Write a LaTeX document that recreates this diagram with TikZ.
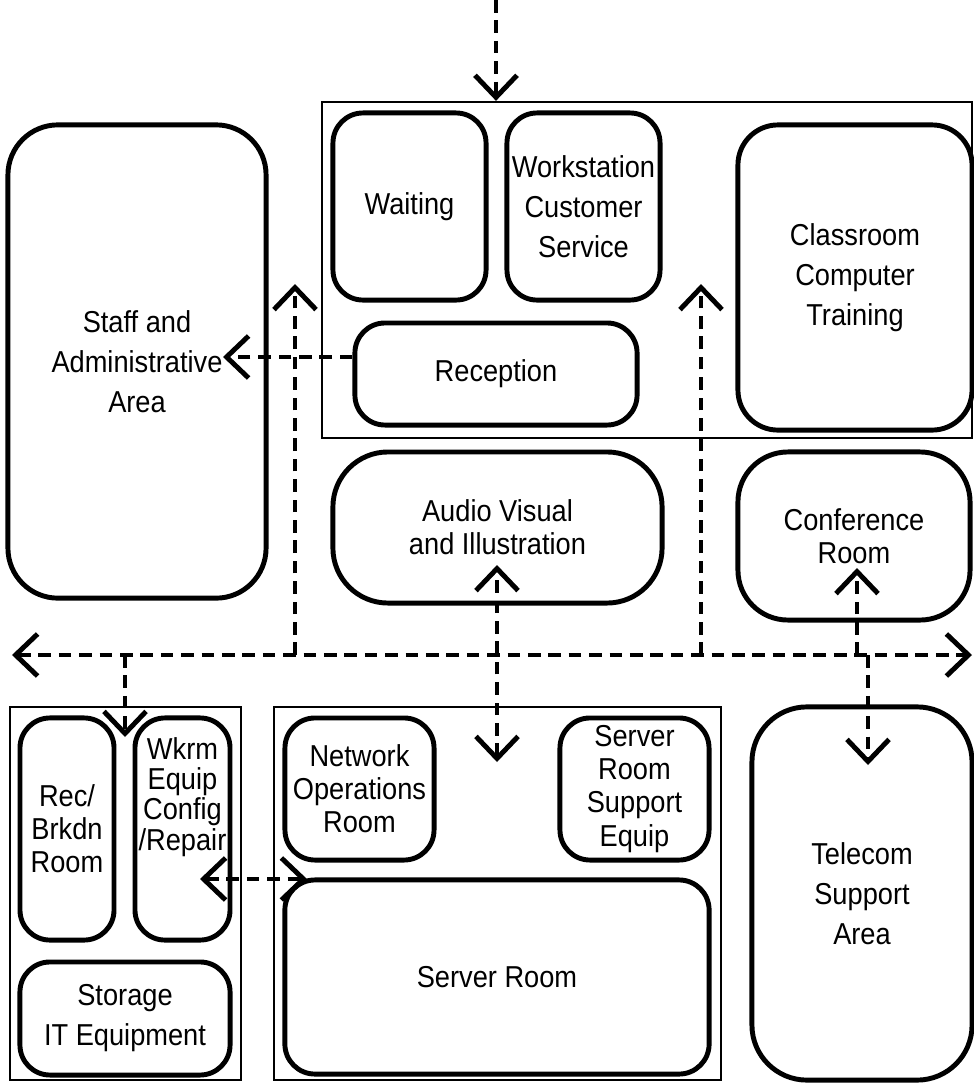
\documentclass[tikz,border=0pt]{standalone}
\usepackage{fontspec}
\setmainfont{Liberation Sans}[FakeStretch=0.9]
\usetikzlibrary{arrows.meta}

\begin{document}
\begin{tikzpicture}[x=0.01cm,y=-0.01cm,line cap=round,
  >={Straight Barb[length=0.22cm,width=0.42cm,line width=1.4pt]},
  zone/.style={draw,line width=0.6pt,inner sep=0pt},
  room/.style={draw,line width=1.4pt,rounded corners=0.3cm,align=center,
    inner sep=0pt,font=\fontsize{8.6}{11.4}\selectfont},
  small/.style={font=\fontsize{8.6}{9.4}\selectfont},
  tag/.style={align=center,inner sep=0pt},
  flow/.style={line width=0.9pt,dash pattern=on 3.6pt off 2.2pt,line cap=butt}]
  \useasboundingbox (0,0) rectangle (974,1084);
  % zones
  \node[zone,minimum width=6.50cm,minimum height=3.36cm] (front) at (647,270) {};
  \node[zone,minimum width=2.31cm,minimum height=3.73cm] (shop) at (125.5,893.5) {};
  \node[zone,minimum width=4.47cm,minimum height=3.73cm] (ops) at (497.5,893.5) {};
  % upper rooms
  \node[room,minimum width=2.58cm,minimum height=4.73cm,rounded corners=0.5cm] (staff) at (137,361.5) {Staff and\\Administrative\\Area};
  \node[room,minimum width=1.53cm,minimum height=1.87cm] (waiting) at (409.5,206.5) {Waiting};
  \node[room,minimum width=1.53cm,minimum height=1.87cm] (custsvc) at (583.5,206.5) {Workstation\\Customer\\Service};
  \node[room,minimum width=2.34cm,minimum height=3.05cm,rounded corners=0.4cm] (classroom) at (855,277.5) {Classroom\\Computer\\Training};
  \node[room,minimum width=2.82cm,minimum height=1.02cm] (reception) at (496,374) {Reception};
  \node[room,small,minimum width=3.29cm,minimum height=1.51cm,rounded corners=0.55cm] (av) at (497.5,527.5) {Audio Visual\\and Illustration};
  \node[room,small,minimum width=2.32cm,minimum height=1.68cm,rounded corners=0.5cm] (conf) at (854,536) {Conference\\Room};
  % lower rooms
  \node[room,small,minimum width=0.94cm,minimum height=2.22cm] (recv) at (67,829) {Rec/\\Brkdn\\Room};
  \node[room,minimum width=0.95cm,minimum height=2.22cm] (wkrm) at (182.5,829) {};
  \node[tag,font=\fontsize{8.6}{8.6}\selectfont] (wkrmtag) at (182.5,797) {Wkrm\\Equip\\Config\\/Repair};
  \node[room,minimum width=2.10cm,minimum height=1.13cm] (storage) at (125,1018.5) {Storage\\IT Equipment};
  \node[room,small,minimum width=1.49cm,minimum height=1.42cm] (netops) at (359.5,789) {Network\\Operations\\Room};
  \node[room,small,minimum width=1.49cm,minimum height=1.42cm] (srvsup) at (634.5,789) {Server\\Room\\Support\\Equip};
  \node[room,minimum width=4.24cm,minimum height=1.94cm] (server) at (497,977) {Server Room};
  \node[room,minimum width=2.20cm,minimum height=3.73cm,rounded corners=0.55cm] (telecom) at (862,893.5) {Telecom\\Support\\Area};
  % entry and corridor
  \coordinate (entry) at (496,0);
  \draw[flow,->] (entry) -- (entry |- front.north);
  \coordinate (west) at (12,655);
  \coordinate (east) at (972,655);
  \draw[flow,<->] (west) -- (east);
  % branches off the corridor
  \coordinate (upw) at (295,284);
  \coordinate (upe) at (701,284);
  \coordinate (conftip) at (857,568);
  \coordinate (telctip) at (868,765);
  \coordinate (shoptip) at (125,737);
  \draw[flow,->] (west -| upw) -- (upw);
  \draw[flow,->] (west -| upe) -- (upe);
  \draw[flow,->] (west -| conftip) -- (conftip);
  \draw[flow,->] (west -| telctip) -- (telctip);
  \draw[flow,->] (west -| shoptip) -- (shoptip);
  % av to operations
  \coordinate (avtip) at (497,565);
  \coordinate (opstip) at (497,762);
  \draw[flow,<->] (opstip) -- (avtip);
  % reception to staff
  \coordinate (admtip) at (223,357);
  \draw[flow,->] (reception.west |- admtip) -- (admtip);
  % workroom to operations
  \coordinate (wktip) at (200,879);
  \coordinate (optip) at (307,879);
  \draw[flow,<->] (wktip) -- (optip);
\end{tikzpicture}
\end{document}
